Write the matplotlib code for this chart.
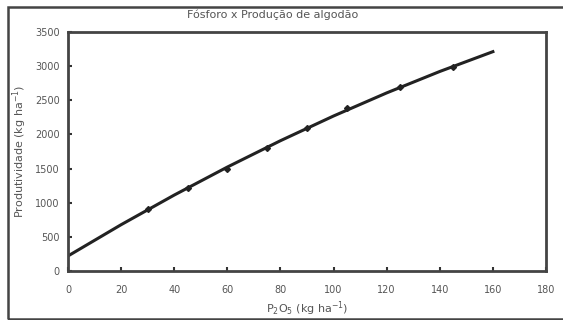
import matplotlib.pyplot as plt
from matplotlib.patches import Rectangle

# dados observados
dose = [30, 45, 60, 75, 90, 105, 125, 145]
produtividade = [910, 1220, 1500, 1800, 2100, 2390, 2700, 2990]

# curva ajustada
dose_curva = [0, 20, 40, 60, 80, 100, 120, 140, 160]
prod_curva = [220, 678, 1112, 1522, 1908, 2270, 2608, 2922, 3212]

xticks = [0, 20, 40, 60, 80, 100, 120, 140, 160, 180]
yticks = [0, 500, 1000, 1500, 2000, 2500, 3000, 3500]

cor_txt = "#555555"

fig = plt.figure(figsize=(5.63, 3.2), dpi=100)
ax = fig.add_axes([68/563, 1-271/320, (546-68)/563, (271-32)/320])

ax.plot(dose_curva, prod_curva, color="#222222", linewidth=2.2)
ax.plot(dose, produtividade, linestyle="none", marker="D", markersize=3,
        color="#222222")

ax.set_xlim(0, 180)
ax.set_ylim(0, 3500)
ax.set_xticks(xticks)
ax.set_yticks(yticks)
ax.tick_params(direction="in", length=3, width=1.5, color="#333333",
               labelsize=7, labelcolor=cor_txt)
ax.tick_params(axis="x", pad=10)
ax.tick_params(axis="y", pad=6)
for s in ax.spines.values():
    s.set_linewidth(2)
    s.set_color("#444444")

ax.set_xlabel("P$_2$O$_5$ (kg ha$^{-1}$)", fontsize=8, color=cor_txt, labelpad=3)
ax.set_ylabel("Produtividade (kg ha$^{-1}$)", fontsize=8, color=cor_txt, labelpad=4)
fig.text(0.485, 0.953, "Fósforo x Produção de algodão", fontsize=8,
         color=cor_txt, ha="center", va="center")

# moldura externa
fig.patches.append(Rectangle((8/563, 1-319/320), 1.0, 312/320,
                             transform=fig.transFigure, fill=False,
                             edgecolor="#444444", linewidth=1.8))

fig.savefig("out.png", dpi=100)
